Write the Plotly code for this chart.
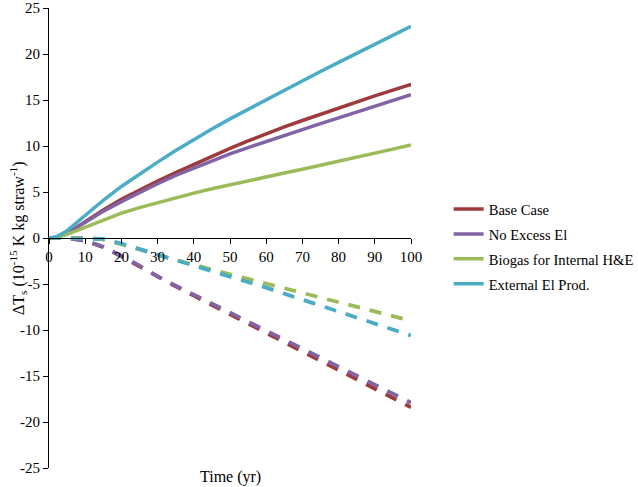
import plotly.graph_objects as go

years = [0, 2, 5, 10, 15, 20, 25, 30, 35, 40, 45, 50, 55, 60, 65, 70, 75, 80, 85, 90, 95, 100]

base_solid = [0, 0.08, 0.5, 1.8, 3.05, 4.2, 5.25, 6.2, 7.1, 8.0, 8.88, 9.74, 10.56, 11.33, 12.07, 12.77, 13.46, 14.13, 14.79, 15.44, 16.07, 16.7]
noexc_solid = [0, 0.08, 0.5, 1.7, 2.9, 3.95, 4.95, 5.9, 6.8, 7.6, 8.4, 9.15, 9.83, 10.5, 11.16, 11.8, 12.43, 13.05, 13.68, 14.31, 14.95, 15.58]
biogas_solid = [0, 0.05, 0.4, 1.2, 2.0, 2.7, 3.3, 3.85, 4.38, 4.88, 5.35, 5.8, 6.22, 6.64, 7.06, 7.48, 7.9, 8.34, 8.78, 9.22, 9.66, 10.1]
ext_solid = [0, 0.1, 0.8, 2.45, 4.1, 5.6, 6.95, 8.25, 9.5, 10.7, 11.85, 12.95, 14.0, 15.04, 16.07, 17.09, 18.1, 19.09, 20.07, 21.05, 22.03, 23.0]

base_dash = [0, 0, -0.02, -0.3, -1.0, -2.0, -3.1, -4.25, -5.26, -6.27, -7.28, -8.29, -9.3, -10.31, -11.32, -12.33, -13.34, -14.36, -15.37, -16.38, -17.39, -18.4]
noexc_dash = [0, 0, -0.02, -0.3, -0.95, -1.95, -3.0, -4.2, -5.18, -6.16, -7.14, -8.11, -9.09, -10.07, -11.05, -12.03, -13.01, -13.99, -14.96, -15.94, -16.92, -17.9]
biogas_dash = [0, 0, 0, 0, -0.15, -0.65, -1.25, -1.85, -2.4, -2.95, -3.45, -3.95, -4.45, -4.95, -5.45, -5.95, -6.45, -6.97, -7.48, -7.99, -8.5, -9.0]
ext_dash = [0, 0, 0, 0, -0.1, -0.6, -1.2, -1.8, -2.4, -2.95, -3.52, -4.1, -4.75, -5.4, -6.05, -6.7, -7.35, -8.0, -8.65, -9.3, -9.95, -10.6]

names = ["Base Case", "No Excess El", "Biogas for Internal H&E", "External El Prod."]
colors = ["#9E3A3B", "#8064A6", "#9BBB59", "#4BACC6"]
solids = [base_solid, noexc_solid, biogas_solid, ext_solid]
dashes = [base_dash, noexc_dash, biogas_dash, ext_dash]

x_ticks = list(range(0, 101, 10))
y_ticks = list(range(-25, 26, 5))

fig = go.Figure()
for name, col, d in zip(names, colors, dashes):
    fig.add_trace(go.Scatter(x=years, y=d, mode="lines", showlegend=False,
                             line=dict(color=col, width=3.8, dash="12px,10px")))
for i, (name, col, s) in enumerate(zip(names, colors, solids)):
    fig.add_trace(go.Scatter(x=years, y=s, mode="lines", name=name, legendgroup=f"g{i}",
                             line=dict(color=col, width=3.5)))

font = "Liberation Serif"
fig.update_layout(
    width=638, height=487,
    margin=dict(l=49, r=227, t=8, b=19, autoexpand=False),
    paper_bgcolor="white", plot_bgcolor="white",
    font=dict(family=font, size=15, color="black"),
    showlegend=True,
    legend=dict(x=1.104, y=0.598, xanchor="left", yanchor="top",
                font=dict(family=font, size=14.6, color="black"),
                bgcolor="rgba(0,0,0,0)", itemwidth=30, tracegroupgap=3),
    xaxis=dict(range=[0, 100], tickvals=x_ticks, ticktext=[str(v) for v in x_ticks],
               showgrid=False, zeroline=False, showline=True, linecolor="black", linewidth=1,
               ticks="outside", ticklen=5, tickcolor="black", anchor="free", position=0.5,
               tickfont=dict(family=font, size=15)),
    yaxis=dict(range=[-25, 25], tickvals=y_ticks, ticktext=[str(v) for v in y_ticks],
               showgrid=False, zeroline=False, showline=True, linecolor="black", linewidth=1,
               ticks="outside", ticklen=5, tickcolor="black",
               tickfont=dict(family=font, size=15)),
    annotations=[
        dict(text="Time (yr)", xref="paper", yref="paper", x=0.5, y=-0.02, yanchor="middle",
             xanchor="center", showarrow=False, font=dict(family=font, size=16)),
        dict(text="ΔT<sub>s</sub> (10<sup>-15</sup> K kg straw<sup>-1</sup>)", xref="paper", yref="paper",
             x=-0.0856, y=0.5, xanchor="center", yanchor="middle", textangle=-90, showarrow=False,
             font=dict(family=font, size=16)),
    ],
)

fig.write_html("out.html", config={"displayModeBar": False},
               post_script="document.body.style.margin='0';document.body.style.overflow='hidden';")
